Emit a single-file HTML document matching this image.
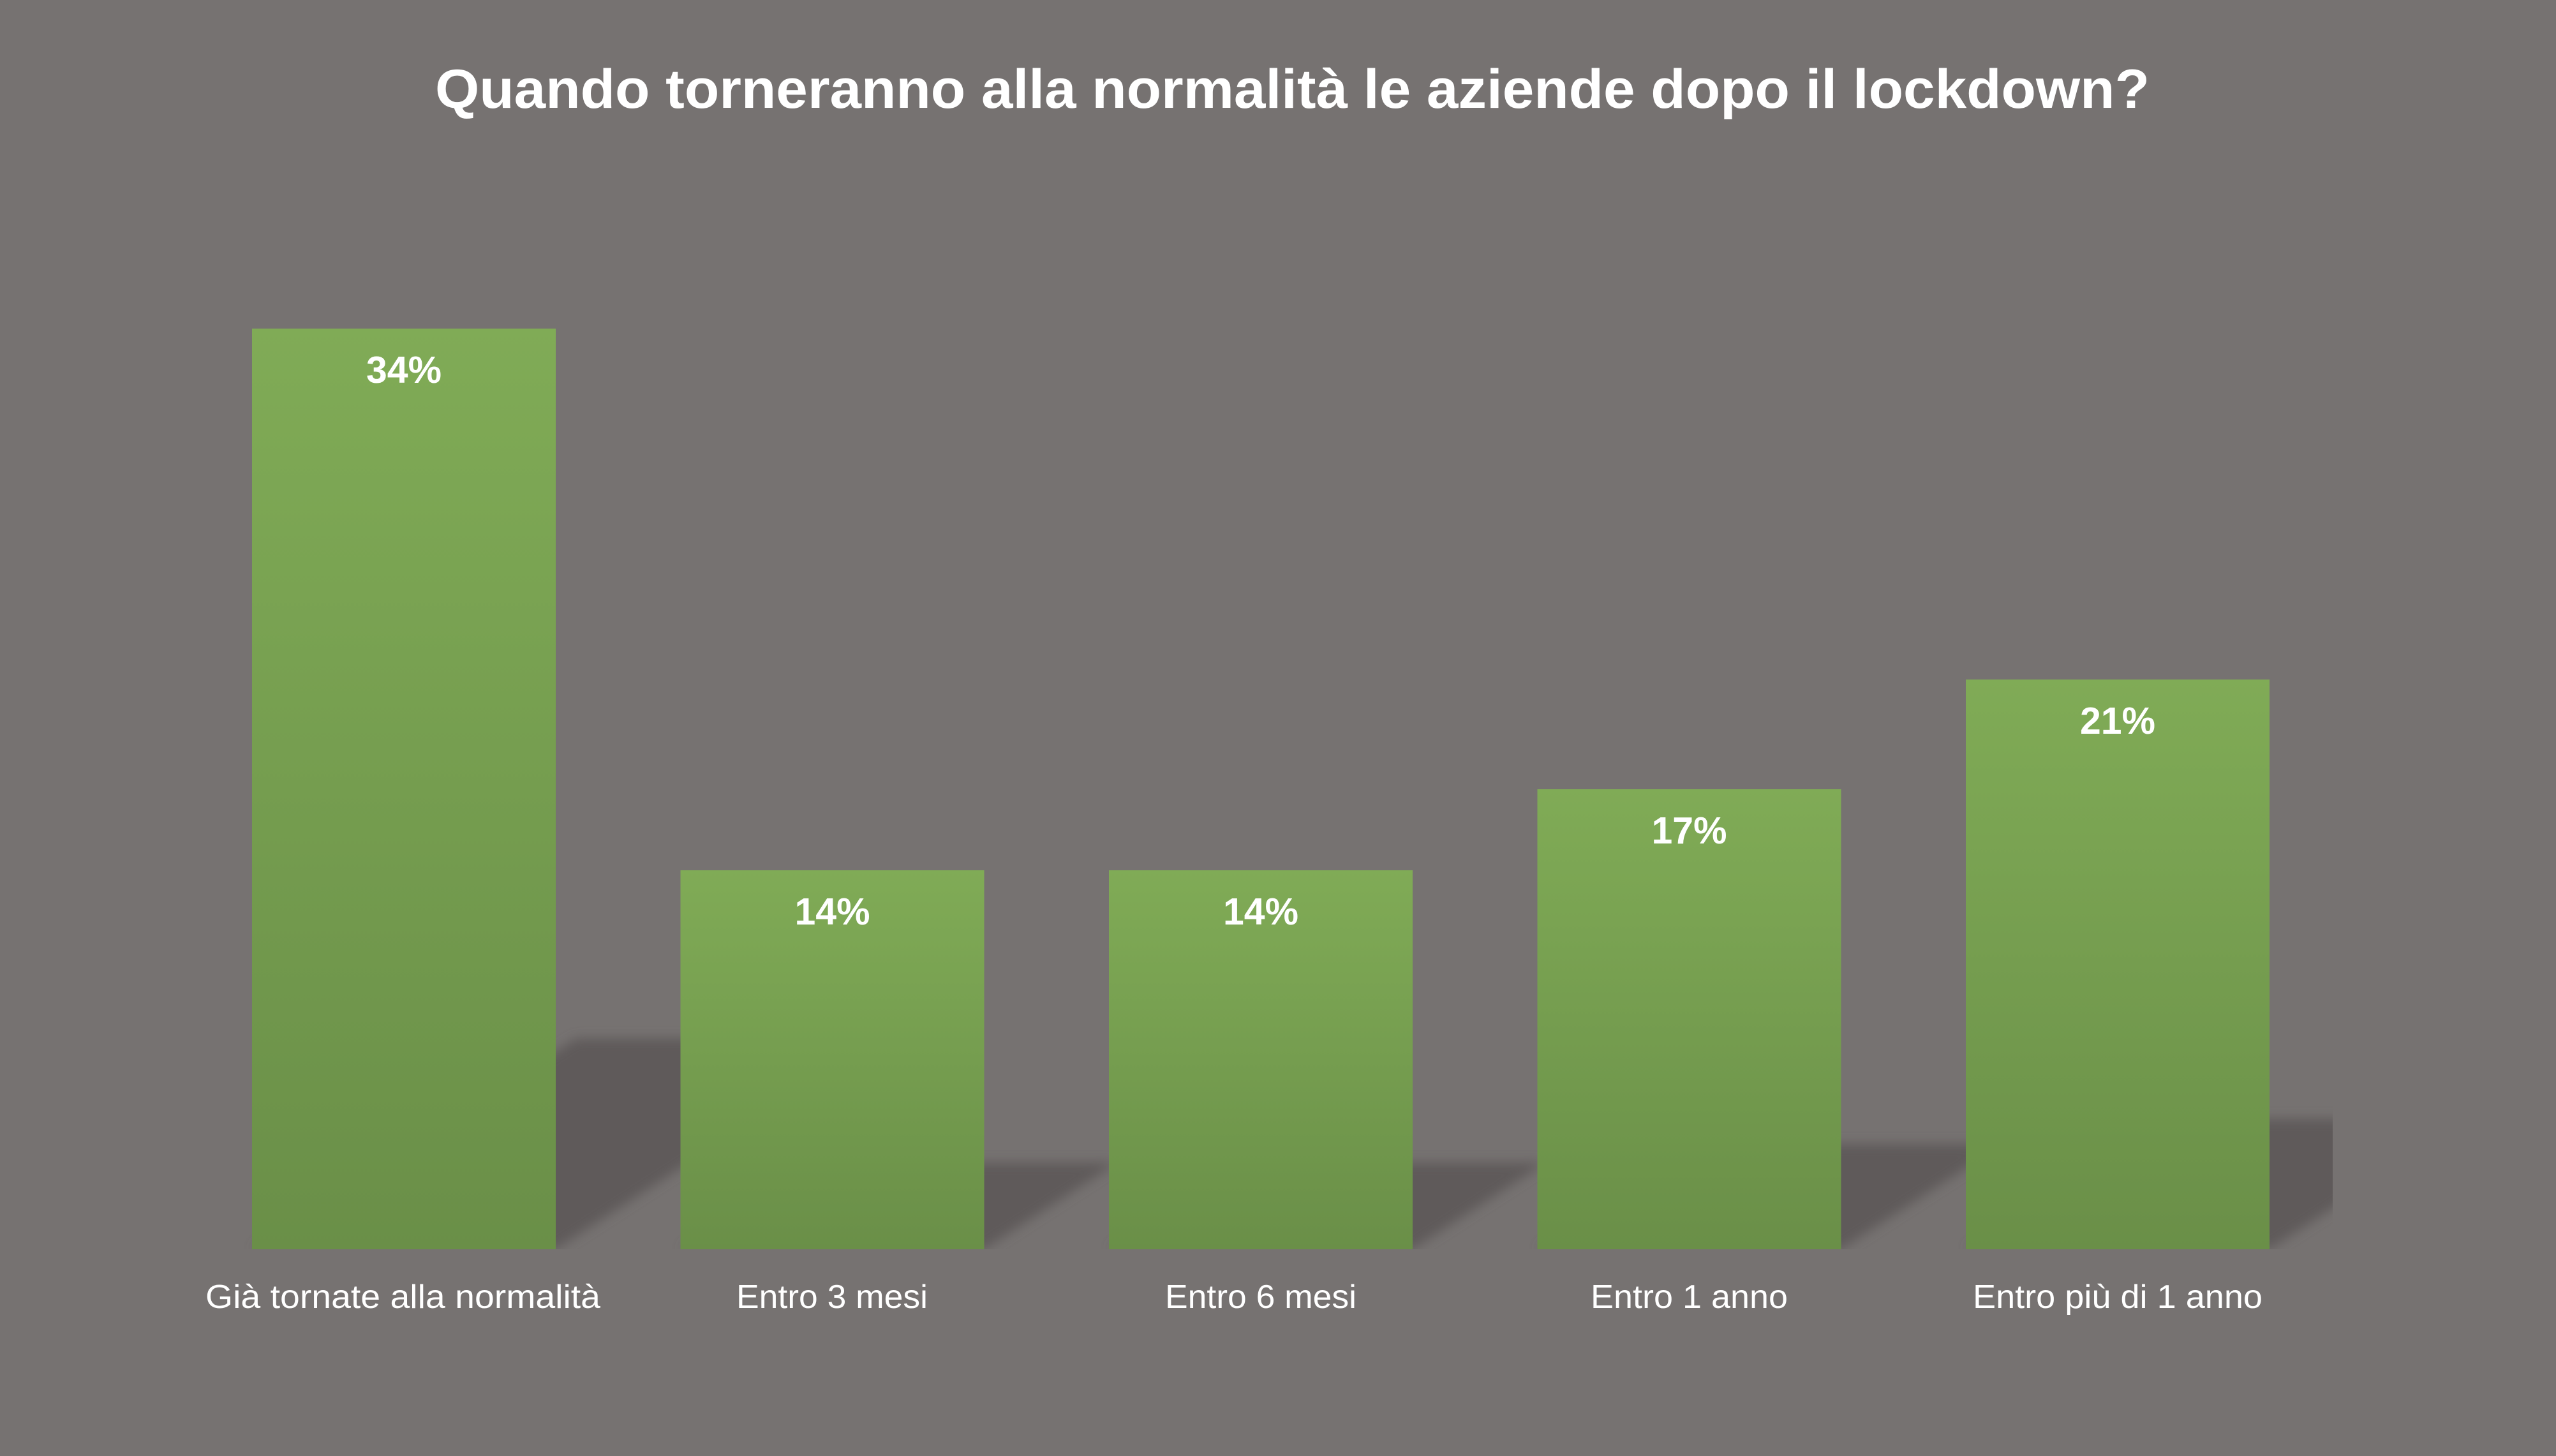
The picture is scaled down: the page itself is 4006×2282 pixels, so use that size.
<!DOCTYPE html>
<html>
<head>
<meta charset="utf-8">
<style>
  html, body { margin: 0; padding: 0; background: #767271; }
  svg { display: block; }
  text { font-family: "Liberation Sans", "DejaVu Sans", sans-serif; fill: #ffffff; }
</style>
</head>
<body>
<svg width="4006" height="2282" viewBox="0 0 4006 2282" xmlns="http://www.w3.org/2000/svg">
  <defs>
    <linearGradient id="g" x1="0" y1="0" x2="0" y2="1">
      <stop offset="0" stop-color="#80ab56"/>
      <stop offset="1" stop-color="#6a8f48"/>
    </linearGradient>
    <filter id="blur" x="-10%" y="-10%" width="120%" height="120%">
      <feGaussianBlur stdDeviation="9"/>
    </filter>
    <clipPath id="plot">
      <rect x="0" y="0" width="3656" height="1958"/>
    </clipPath>
  </defs>

  <rect x="0" y="0" width="4006" height="2282" fill="#767271"/>

  <!-- Title -->
  <text x="682" y="169" font-size="86" font-weight="bold" textLength="2687" lengthAdjust="spacingAndGlyphs">Quando torneranno alla normalità le aziende dopo il lockdown?</text>

  <!-- Shadows -->
  <g clip-path="url(#plot)">
    <g fill="#5e5a5a" filter="url(#blur)">
      <polygon points="395,1958 871,1958 1379,1627.5 903,1627.5"/>
      <polygon points="1066.5,1958 1542.5,1958 1751.5,1822 1275.5,1822"/>
      <polygon points="1738,1958 2214,1958 2423,1822 1947,1822"/>
      <polygon points="2409.5,1958 2885.5,1958 3139.5,1793 2663.5,1793"/>
      <polygon points="3081,1958 3557,1958 3872,1753.5 3396,1753.5"/>
    </g>
  </g>

  <!-- Bars -->
  <rect x="395" y="515" width="476" height="1443" fill="url(#g)"/>
  <rect x="1066.5" y="1364" width="476" height="594" fill="url(#g)"/>
  <rect x="1738" y="1364" width="476" height="594" fill="url(#g)"/>
  <rect x="2409.5" y="1237" width="476" height="721" fill="url(#g)"/>
  <rect x="3081" y="1065" width="476" height="893" fill="url(#g)"/>

  <!-- Value labels -->
  <g font-size="59" font-weight="bold" text-anchor="middle">
    <text x="633" y="600" textLength="118" lengthAdjust="spacingAndGlyphs">34%</text>
    <text x="1304.5" y="1449" textLength="118" lengthAdjust="spacingAndGlyphs">14%</text>
    <text x="1976" y="1449" textLength="118" lengthAdjust="spacingAndGlyphs">14%</text>
    <text x="2647.5" y="1322" textLength="118" lengthAdjust="spacingAndGlyphs">17%</text>
    <text x="3319" y="1150" textLength="118" lengthAdjust="spacingAndGlyphs">21%</text>
  </g>

  <!-- Category labels -->
  <g font-size="52">
    <text x="322" y="2050" textLength="619" lengthAdjust="spacingAndGlyphs">Già tornate alla normalità</text>
    <text x="1154" y="2050" textLength="300" lengthAdjust="spacingAndGlyphs">Entro 3 mesi</text>
    <text x="1826" y="2050" textLength="300" lengthAdjust="spacingAndGlyphs">Entro 6 mesi</text>
    <text x="2493" y="2050" textLength="309" lengthAdjust="spacingAndGlyphs">Entro 1 anno</text>
    <text x="3092" y="2050" textLength="454" lengthAdjust="spacingAndGlyphs">Entro più di 1 anno</text>
  </g>
</svg>
</body>
</html>
